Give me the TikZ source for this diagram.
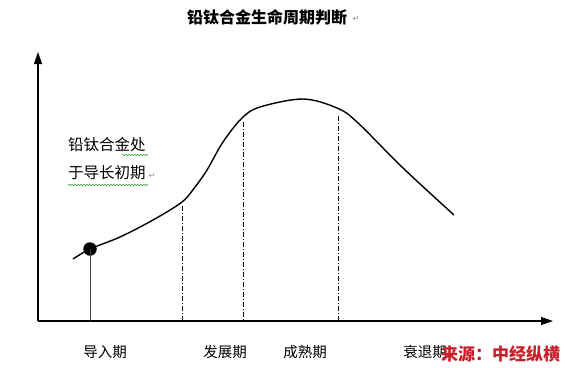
\documentclass[tikz,border=0pt]{standalone}
\usepackage{fontspec}
\newfontfamily\cjk{Noto Sans CJK SC}
\newfontfamily\symfont{DejaVu Sans}
\usetikzlibrary{arrows.meta,decorations.pathmorphing}
\definecolor{wmred}{HTML}{C8202A}
\definecolor{wavygreen}{HTML}{2E9E2E}
\tikzset{
  axis/.style={line width=1.1pt,-{Triangle[length=12pt,width=8pt]}},
  curve/.style={line width=1.4pt,line join=round},
  guide/.style={line width=1pt,dash pattern=on 5pt off 2pt on 1pt off 2pt},
  stem/.style={line width=1pt,draw=black!75},
  lbl/.style={font=\cjk\fontsize{14.5}{16}\selectfont,inner sep=0pt},
  side/.style={font=\cjk\fontsize{15.5}{17}\selectfont,inner sep=0pt,anchor=west},
  ttl/.style={font=\cjk\bfseries\fontsize{16}{18}\selectfont,inner sep=0pt},
  wm/.style={font=\cjk\bfseries\fontsize{17}{19}\selectfont,text=wmred,inner sep=0pt},
  retmark/.style={font=\symfont\fontsize{8}{9}\selectfont,text=black!45,inner sep=0pt},
  wavy/.style={draw=wavygreen,line width=0.5pt,decorate,decoration={snake,segment length=3pt,amplitude=0.8pt}}
}
\begin{document}
\begin{tikzpicture}[x=1pt,y=-1pt]
\useasboundingbox (0,0) rectangle (565,367);
% axes
\coordinate (O) at (38,321);
\coordinate (ytop) at (38,52);
\coordinate (xend) at (553,321);
\draw[axis] (O) -- (ytop);
\draw[axis] (O) -- (xend);
% curve
\draw[curve] plot[smooth,tension=0.55] coordinates {
 (73,259) (90,249) (120,237) (153,220) (182,202) (195,187) (207,170)
 (223,142) (242,118) (260,107) (303,99) (337,108) (357,122) (403,168) (454,215)};
% guide lines
\coordinate (g1) at (182,206);
\coordinate (g2) at (243,122);
\coordinate (g3) at (338,116);
\draw[guide] (g1) -- (g1 |- O);
\draw[guide] (g2) -- (g2 |- O);
\draw[guide] (g3) -- (g3 |- O);
% dot
\node[circle,fill=black,minimum size=13.5pt,inner sep=0pt] (dot) at (90,249) {};
\draw[stem] (dot.center) -- (dot.center |- O);
% title
\node[ttl] (title) at (267,17) {铅钛合金生命周期判断};
\node[retmark] (r1) at (356,19) {↵};
% side label
\node[side] (s1) at (68,145) {铅钛合金处};
\node[side] (s2) at (68,173) {于导长初期};
\node[retmark] (r2) at (152,176) {↵};
\draw[wavy] (122,155) -- (148,155);
\draw[wavy] (68,185) -- (148,185);
% stage labels
\node[lbl] (p1) at (105,352) {导入期};
\node[lbl] (p2) at (225,352) {发展期};
\node[lbl] (p3) at (305,352) {成熟期};
\node[lbl] (p4) at (425,352) {衰退期};
% watermark
\node[wm,anchor=west] (src) at (441,354) {来源：中经纵横};
\end{tikzpicture}
\end{document}
